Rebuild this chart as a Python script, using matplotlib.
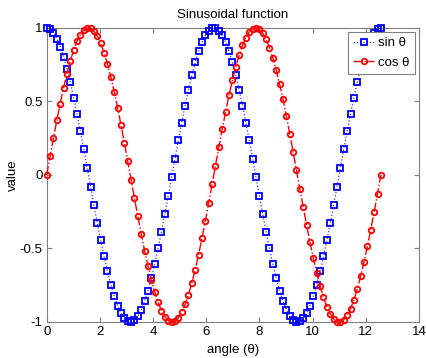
import numpy as np
import matplotlib
matplotlib.use("Agg")
import matplotlib.pyplot as plt

plt.rcParams['font.family'] = ['Liberation Sans', 'DejaVu Sans']

# series labelled "sin θ" (blue squares)
SIN_LABELLED = [1, 0.992, 0.968, 0.928, 0.874, 0.805, 0.724, 0.631, 0.527, 0.415, 0.297, 0.174, 0.048,
                -0.079, -0.205, -0.327, -0.444, -0.554, -0.655, -0.745, -0.824, -0.889, -0.94, -0.975,
                -0.995, -0.999, -0.987, -0.959, -0.916, -0.858, -0.786, -0.701, -0.606, -0.5, -0.386,
                -0.266, -0.142, -0.016, 0.111, 0.236, 0.357, 0.472, 0.58, 0.679, 0.766, 0.841, 0.903,
                0.95, 0.982, 0.998, 0.998, 0.982, 0.95, 0.903, 0.841, 0.766,
                0.679, 0.58, 0.472, 0.357, 0.236, 0.111, -0.016, -0.142, -0.266, -0.386, -0.5, -0.606,
                -0.701, -0.786, -0.858, -0.916, -0.959, -0.987, -0.999, -0.995, -0.975, -0.94, -0.889,
                -0.824, -0.745, -0.655, -0.554, -0.444, -0.327, -0.205, -0.079, 0.048, 0.174, 0.297,
                0.415, 0.527, 0.631, 0.724, 0.805, 0.874, 0.928, 0.968, 0.992, 1]

# series labelled "cos θ" (red circles)
COS_LABELLED = [0, 0.127, 0.251, 0.372, 0.486, 0.593, 0.69, 0.776, 0.85, 0.91, 0.955, 0.985, 0.999, 0.997,
                0.979, 0.945, 0.896, 0.833, 0.756, 0.667, 0.567, 0.458, 0.342, 0.22, 0.095, -0.032,
                -0.158, -0.282, -0.401, -0.514, -0.618, -0.713, -0.796, -0.866, -0.922, -0.964, -0.99,
                -1, -0.994, -0.972, -0.934, -0.881, -0.815, -0.735, -0.643, -0.541, -0.43, -0.312,
                -0.189, -0.063, 0.063, 0.189, 0.312, 0.43, 0.541, 0.643, 0.735, 0.815, 0.881, 0.934,
                0.972, 0.994, 1, 0.99, 0.964, 0.922, 0.866, 0.796, 0.713, 0.618, 0.514, 0.401, 0.282,
                0.158, 0.032, -0.095, -0.22, -0.342, -0.458, -0.567, -0.667, -0.756, -0.833, -0.896,
                -0.945, -0.979, -0.997, -0.999, -0.985, -0.955, -0.91, -0.85, -0.776, -0.69, -0.593,
                -0.486, -0.372, -0.251, -0.127, 0]

THETA_START, THETA_END = 0.0, 4 * np.pi
theta = np.linspace(THETA_START, THETA_END, len(SIN_LABELLED))

XTICKS = [0, 2, 4, 6, 8, 10, 12, 14]
YTICKS = [-1, -0.5, 0, 0.5, 1]
YTICKLABELS = ['-1', '-0.5', '0', '0.5', '1']

fig = plt.figure(figsize=(4.26, 3.58), dpi=100)
ax = fig.add_axes([0.1096, 0.1006, 0.8740, 0.8212])

ax.plot(theta, SIN_LABELLED, linestyle=':', color='#3333ff', linewidth=0.9,
        marker='s', markersize=3.7, markerfacecolor='none', markeredgecolor='#0000ff',
        markeredgewidth=1.3, label='sin θ', clip_on=False)
ax.plot(theta, COS_LABELLED, linestyle='-.', color='#ff0000', linewidth=1.0,
        marker='o', markersize=4.0, markerfacecolor='none', markeredgecolor='#ff0000',
        markeredgewidth=1.3, label='cos θ', clip_on=False)

ax.set_xlim(0, 14)
ax.set_ylim(-1, 1)
ax.set_xticks(XTICKS)
ax.set_yticks(YTICKS)
ax.set_yticklabels(YTICKLABELS)
ax.tick_params(direction='in', top=True, right=True, length=3.5, width=0.8,
               colors='#000000', labelsize=9.5, color='#808080', pad=3)
for sp in ax.spines.values():
    sp.set_color('#808080')
    sp.set_linewidth(0.8)
    sp.set_zorder(0.5)

ax.set_title('Sinusoidal function', fontsize=9.5, pad=7)
ax.set_xlabel('angle (θ)', fontsize=9.5)
ax.set_ylabel('value', fontsize=9.5)
ax.xaxis.set_label_coords(0.5, -0.095)
ax.xaxis.label.set_va('center')
ax.yaxis.set_label_coords(-0.0905, 0.5)
ax.yaxis.label.set_va('center')

leg = ax.legend(loc='upper right', fontsize=9.5, fancybox=False, framealpha=1,
                edgecolor='#808080', borderaxespad=0.3, handlelength=1.6,
                handletextpad=0.3, borderpad=0.4, labelspacing=0.55)
leg.get_frame().set_linewidth(0.8)
leg.set_zorder(5)

fig.savefig('out.png', dpi=100)
